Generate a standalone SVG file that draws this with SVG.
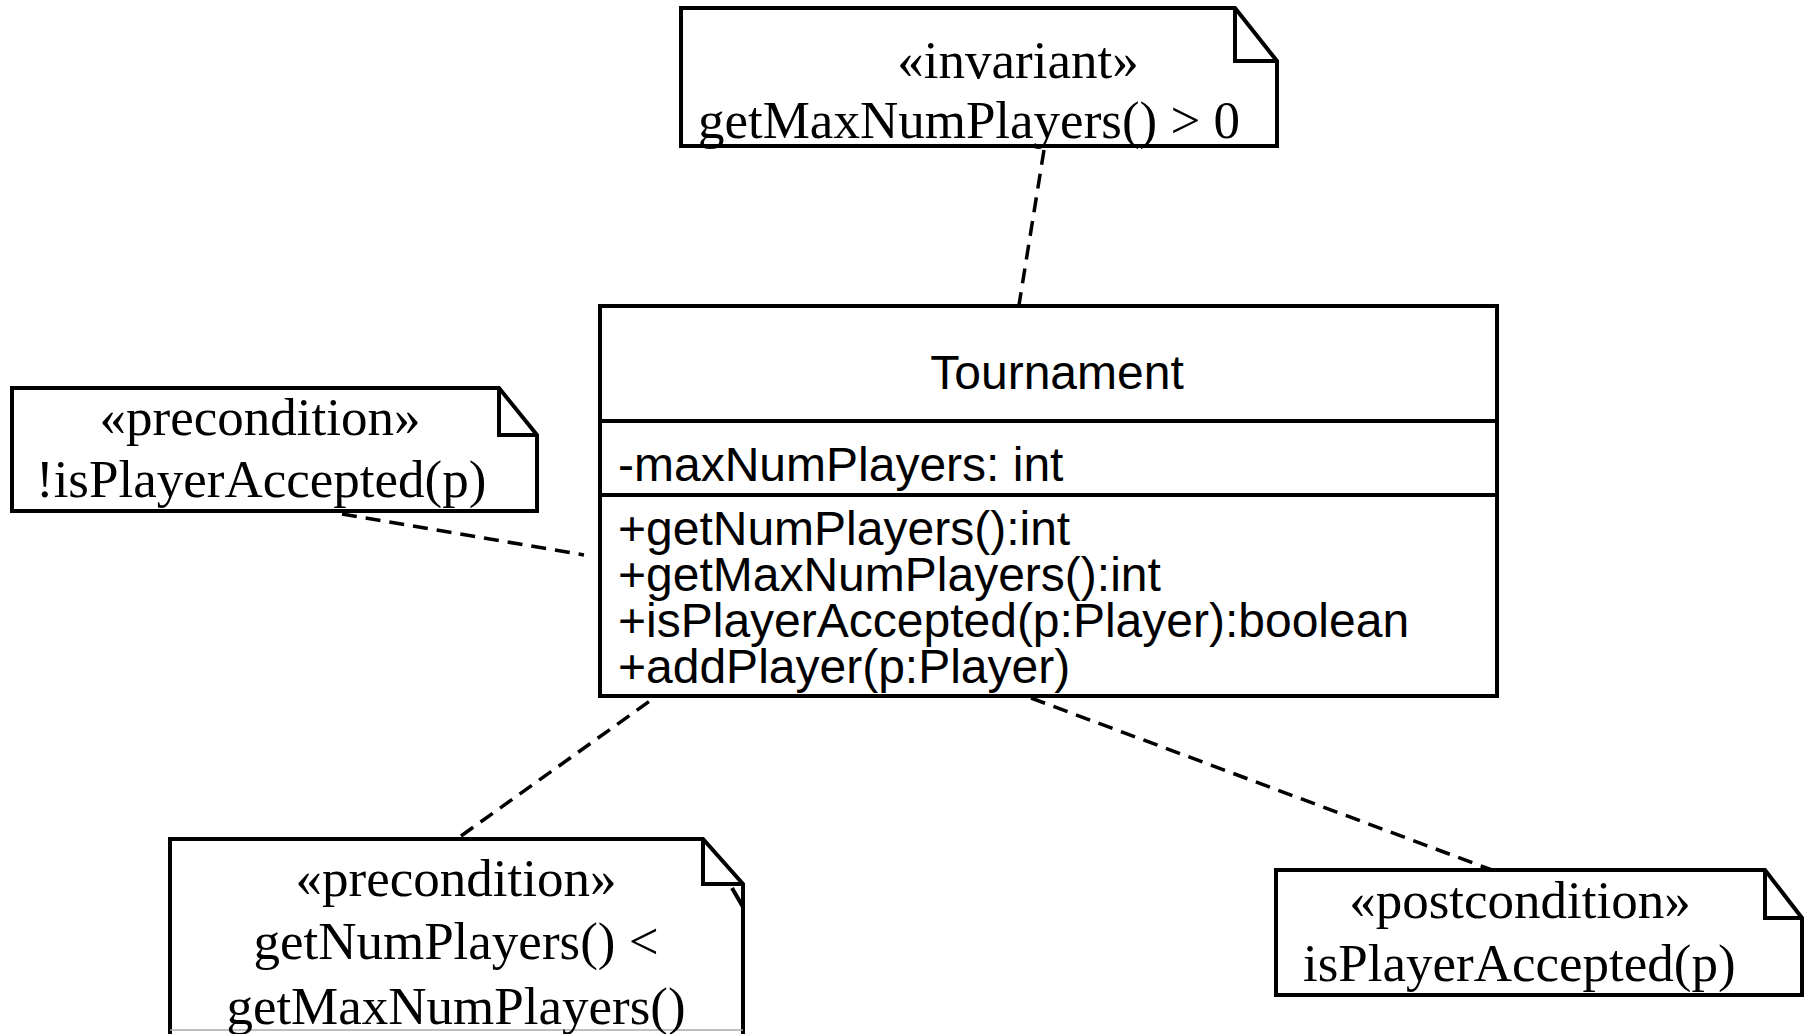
<svg xmlns="http://www.w3.org/2000/svg" width="1806" height="1034" viewBox="0 0 1806 1034">
<style>
.box{fill:#fff;stroke:#000;stroke-width:4;stroke-linejoin:miter}
.ln{fill:none;stroke:#000;stroke-width:4}
.dash{fill:none;stroke:#000;stroke-width:3.5;stroke-dasharray:15 9}
.serif{font-family:"Liberation Serif","Times New Roman",serif;font-size:53px;fill:#000}
.sans{font-family:"Liberation Sans",Arial,sans-serif;font-size:48px;fill:#000}
.mid{text-anchor:middle}
</style>
<rect width="1806" height="1034" fill="#fff"/>
<g id="connectors">
<line class="dash" x1="1044" y1="150" x2="1019" y2="305"/>
<line class="dash" x1="342" y1="514" x2="584" y2="555"/>
<line class="dash" x1="461" y1="836" x2="654" y2="698"/>
<line class="dash" x1="1031" y1="698" x2="1492" y2="870"/>
</g>
<g id="tournament">
<rect class="box" x="600" y="306" width="897" height="390"/>
<line class="ln" x1="600" y1="421" x2="1497" y2="421"/>
<line class="ln" x1="600" y1="495" x2="1497" y2="495"/>
<text class="sans mid" x="1057" y="389">Tournament</text>
<text class="sans" x="618" y="481">-maxNumPlayers: int</text>
<text class="sans" x="618" y="545">+getNumPlayers():int</text>
<text class="sans" x="618" y="591">+getMaxNumPlayers():int</text>
<text class="sans" x="618" y="637">+isPlayerAccepted(p:Player):boolean</text>
<text class="sans" x="618" y="683">+addPlayer(p:Player)</text>
</g>
<g id="invariant-note">
<path class="box" d="M681,8 H1235 L1277,61 V146 H681 Z"/>
<path class="ln" d="M1235,8 V61 H1277"/>
<text class="serif mid" x="1018" y="78">«invariant»</text>
<text class="serif" x="698" y="138">getMaxNumPlayers() &gt; 0</text>
</g>
<g id="precondition-accepted-note">
<path class="box" d="M12,388 H499 L537,435 V511 H12 Z"/>
<path class="ln" d="M499,388 V435 H537"/>
<text class="serif mid" x="260" y="435">«precondition»</text>
<text class="serif" x="36" y="497">!isPlayerAccepted(p)</text>
</g>
<g id="precondition-count-note">
<path class="box" d="M170,1040 V839 H703 L743,884 V1040"/>
<path class="ln" d="M703,839 V884 H743"/>
<path class="ln" d="M732,888 L743,907 V1040"/>
<line x1="170" y1="1030" x2="743" y2="1030" stroke="#aaa" stroke-width="1.5"/>
<text class="serif mid" x="456" y="896">«precondition»</text>
<text class="serif mid" x="456" y="959">getNumPlayers() &lt;</text>
<text class="serif mid" x="456" y="1024">getMaxNumPlayers()</text>
</g>
<g id="postcondition-note">
<path class="box" d="M1276,870 H1765 L1802,918 V995 H1276 Z"/>
<path class="ln" d="M1765,870 V918 H1802"/>
<text class="serif mid" x="1520" y="918">«postcondition»</text>
<text class="serif" x="1303" y="981">isPlayerAccepted(p)</text>
</g>
</svg>
